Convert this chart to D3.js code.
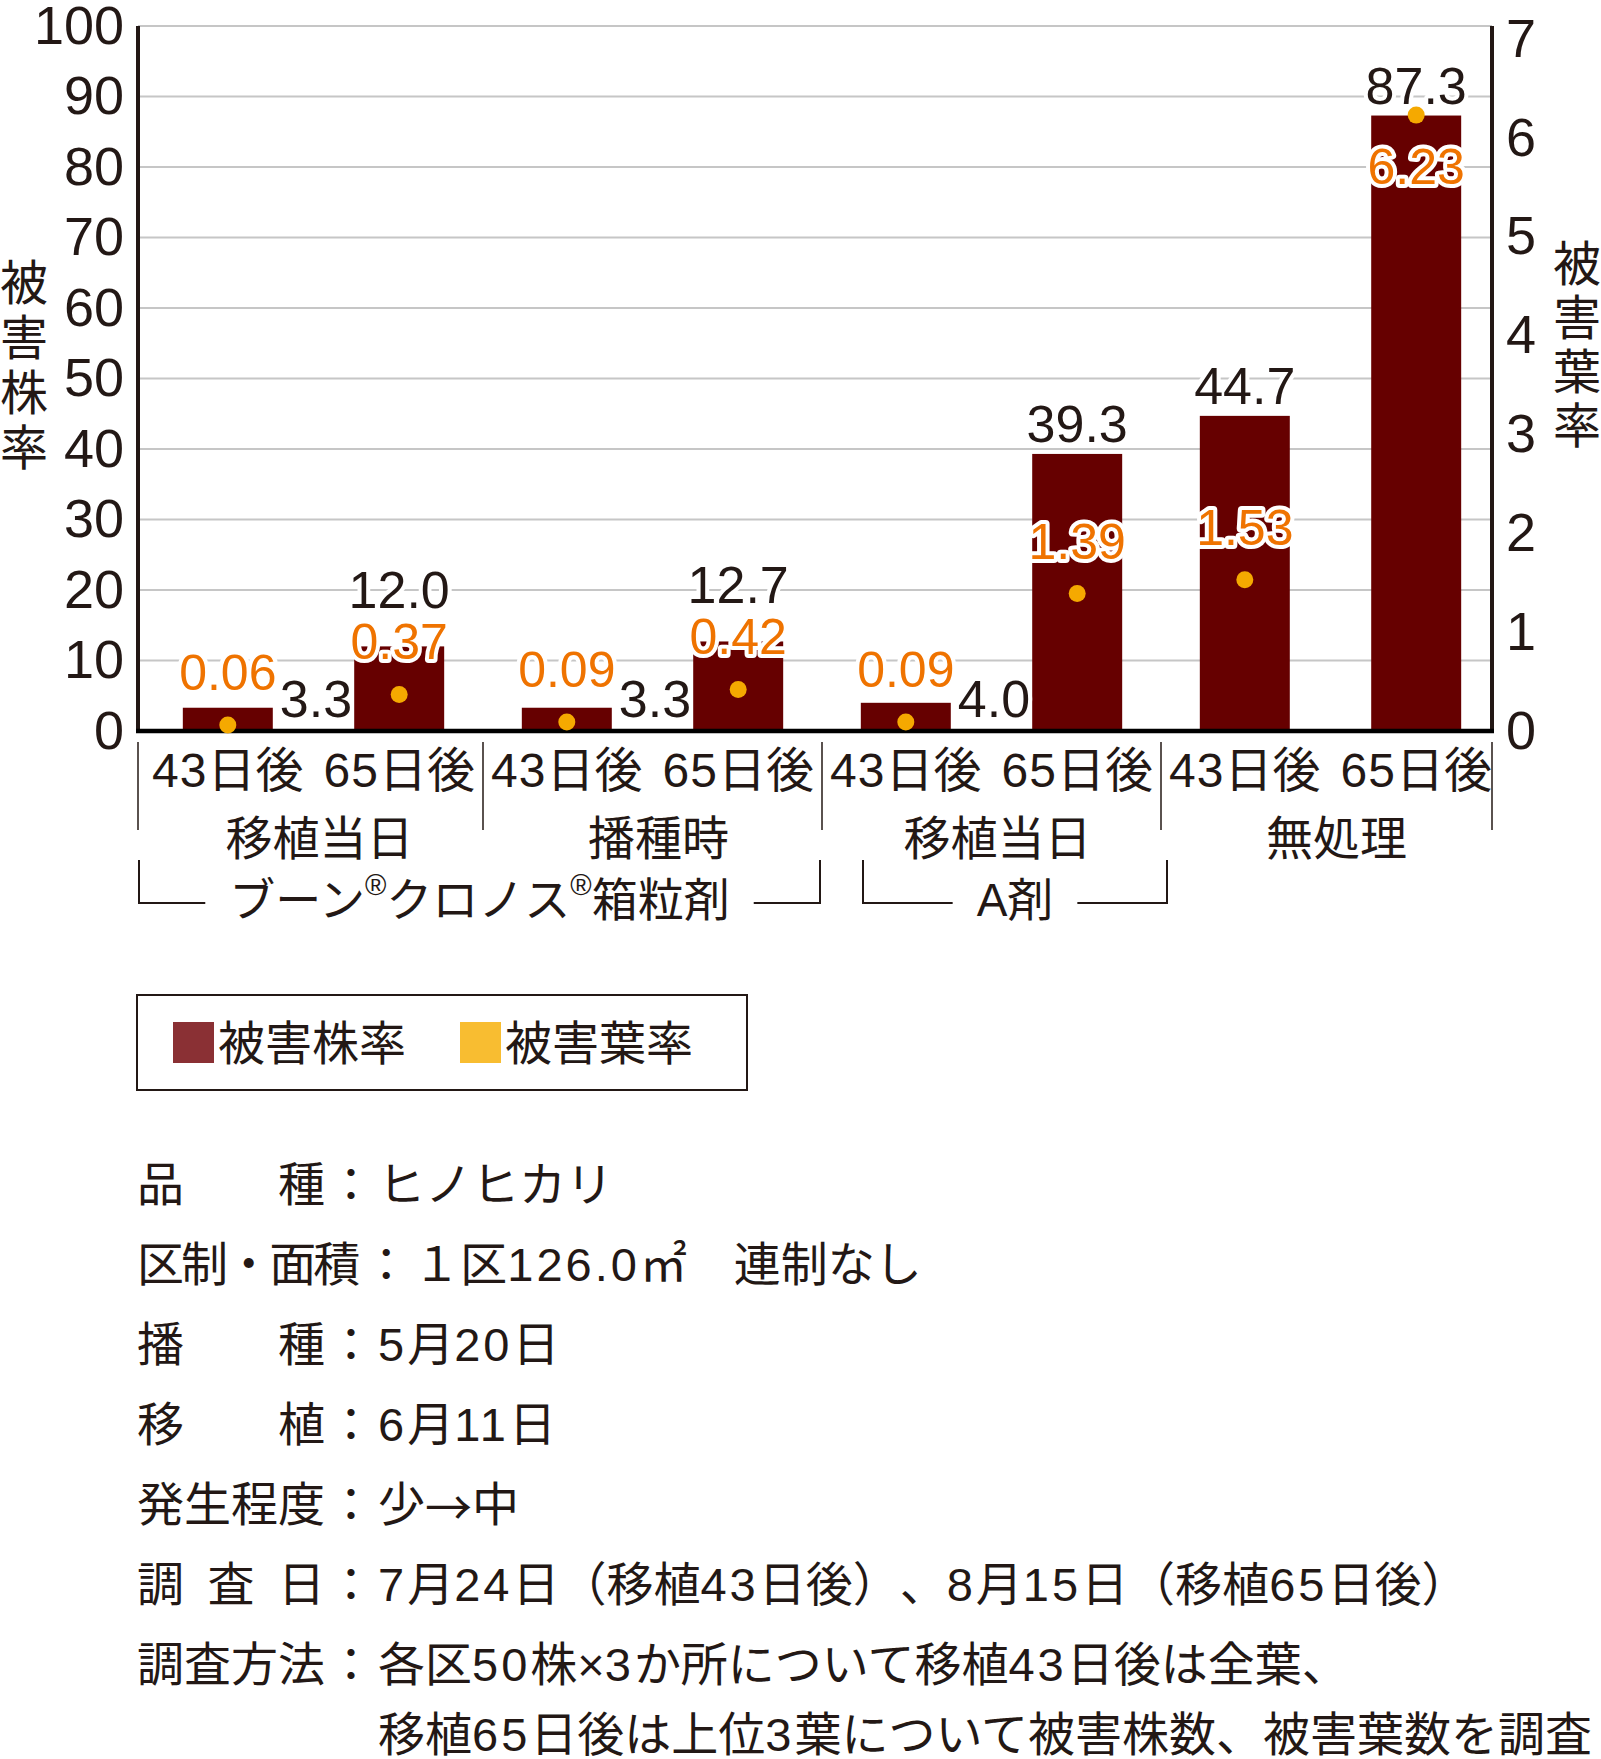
<!DOCTYPE html>
<html lang="ja">
<head>
<meta charset="utf-8">
<script src="https://cdn.jsdelivr.net/npm/d3@7"></script>
<style>
  body { margin: 0; background: #fff; }
  svg text { font-family: "Liberation Sans", Arial, "Noto Sans CJK JP", sans-serif; fill: #231815; text-spacing-trim: space-all; }
</style>
</head>
<body>
<div id="chart"></div>
<script>
// データ
const groupNames = ["移植当日", "播種時", "移植当日", "無処理"];
const timingNames = ["43日後", "65日後"];
const plantDamage = [3.3, 12.0, 3.3, 12.7, 4.0, 39.3, 44.7, 87.3];   // 被害株率
const leafDamage = [0.06, 0.37, 0.09, 0.42, 0.09, 1.39, 1.53, 6.23];  // 被害葉率
const plantTicks = [0, 10, 20, 30, 40, 50, 60, 70, 80, 90, 100];
const leafTicks = [0, 1, 2, 3, 4, 5, 6, 7];
const productNames = ["ブーン®クロノス®箱粒剤", "A剤"];
const productFirstGroup = [0, 2];
const productLastGroup = [1, 2];
const legendNames = ["被害株率", "被害葉率"];
const noteLabels = ["品種", "区制・面積", "播種", "移植", "発生程度", "調査日", "調査方法", ""];
const noteValues = [
  "ヒノヒカリ",
  "１区126.0㎡　連制なし",
  "5月20日",
  "6月11日",
  "少→中",
  "7月24日（移植43日後）、8月15日（移植65日後）",
  "各区50株×3か所について移植43日後は全葉、",
  "移植65日後は上位3葉について被害株数、被害葉数を調査"
];

// レイアウト
const width = 1601, height = 1759;
const plot = { left: 138, right: 1492, top: 26, bottom: 731 };
const barColor = "#660000", dotColor = "#f5a900", leafTextColor = "#ef7300";
const ink = "#231815";
const bracketInsets = [[-5, -2], [41, 6]];

const svg = d3.select("#chart").append("svg")
  .attr("width", width)
  .attr("height", height);

// 数字だけ字間を広げる（和文書体の数字幅に合わせる）
function mixedText(sel, str, digitSpacing) {
  str.match(/[0-9.]+|→|[^0-9.→]+/g).forEach(run => {
    const ts = sel.append("tspan").text(run);
    if (/^[0-9.]+$/.test(run)) ts.attr("letter-spacing", digitSpacing);
    if (run === "→") ts.style("font-family", "'Noto Sans CJK JP', sans-serif");
  });
}

const yPlant = d3.scaleLinear().domain([0, 100]).range([plot.bottom, plot.top]);
const yLeaf = d3.scaleLinear().domain([0, 7]).range([plot.bottom, 39]);
const xGroup = d3.scaleBand().domain(d3.range(groupNames.length)).range([144, 1500]);
const xTiming = d3.scaleBand().domain(timingNames)
  .range([0, xGroup.bandwidth()])
  .paddingInner(0.475)
  .paddingOuter(0.2265);

const bars = plantDamage.map((v, i) => ({
  plant: v,
  leaf: leafDamage[i],
  group: Math.floor(i / timingNames.length),
  timing: timingNames[i % timingNames.length]
}));
const barX = d => xGroup(d.group) + xTiming(d.timing);
const bw = xTiming.bandwidth();

// 目盛線
svg.append("g")
  .selectAll("line")
  .data(plantTicks.filter(t => t > 0))
  .join("line")
  .attr("x1", plot.left).attr("x2", plot.right)
  .attr("y1", d => yPlant(d)).attr("y2", d => yPlant(d))
  .attr("stroke", "#c6c6c6")
  .attr("stroke-width", 1.8);

// 棒
svg.append("g")
  .selectAll("rect")
  .data(bars)
  .join("rect")
  .attr("x", barX)
  .attr("width", bw)
  .attr("y", d => yPlant(d.plant))
  .attr("height", d => yPlant(0) - yPlant(d.plant))
  .attr("fill", barColor);

// 軸
const yAxisL = svg.append("g")
  .attr("transform", `translate(${plot.left},0)`)
  .call(d3.axisLeft(yPlant).tickValues(plantTicks).tickSize(0).tickPadding(14));
const yAxisR = svg.append("g")
  .attr("transform", `translate(${plot.right},0)`)
  .call(d3.axisRight(yLeaf).tickValues(leafTicks).tickFormat(d3.format("d")).tickSize(0).tickPadding(14));
[yAxisL, yAxisR].forEach(ax => {
  ax.select(".domain").remove();
  ax.selectAll("text")
    .attr("font-size", 54)
    .attr("fill", ink)
    .style("font-family", "'Liberation Sans', Arial, sans-serif");
});

svg.append("line")
  .attr("x1", plot.left).attr("x2", plot.left)
  .attr("y1", plot.top).attr("y2", plot.bottom + 2)
  .attr("stroke", ink).attr("stroke-width", 4);
svg.append("line")
  .attr("x1", plot.right).attr("x2", plot.right)
  .attr("y1", plot.top).attr("y2", plot.bottom + 2)
  .attr("stroke", ink).attr("stroke-width", 4);
svg.append("line")
  .attr("x1", plot.left - 2).attr("x2", plot.right + 2)
  .attr("y1", plot.bottom).attr("y2", plot.bottom)
  .attr("stroke", "#000").attr("stroke-width", 4.5);

// 被害葉率の点
svg.append("g")
  .selectAll("circle")
  .data(bars)
  .join("circle")
  .attr("cx", d => barX(d) + bw / 2)
  .attr("cy", d => yLeaf(d.leaf))
  .attr("r", 8.5)
  .attr("fill", dotColor);

// ラベル位置
bars.forEach(d => {
  const top = yPlant(d.plant);
  const dotY = yLeaf(d.leaf);
  d.short = yPlant(0) - top < 40;
  d.leafY = dotY - 52;
  if (d.short) {
    d.plantX = barX(d) + bw + 7;
    d.plantY = yPlant(0) - 14;
    d.plantAnchor = "start";
  } else {
    d.plantX = barX(d) + bw / 2;
    d.plantAnchor = "middle";
    d.plantY = Math.min(top - 12, d.leafY - 34);
    if (d.plantY - 37 < plot.top) {
      d.leafY = dotY + 52;
      d.plantY = top - 12;
    }
  }
});

svg.append("g")
  .selectAll("text")
  .data(bars)
  .join("text")
  .attr("x", d => d.plantX)
  .attr("y", d => d.plantY)
  .attr("text-anchor", d => d.plantAnchor)
  .attr("font-size", 52)
  .attr("stroke", "#fff").attr("stroke-width", 8)
  .attr("stroke-linejoin", "round")
  .attr("paint-order", "stroke")
  .text(d => d3.format(".1f")(d.plant));

svg.append("g")
  .selectAll("text")
  .data(bars)
  .join("text")
  .attr("x", d => barX(d) + bw / 2)
  .attr("y", d => d.leafY)
  .attr("text-anchor", "middle")
  .attr("dominant-baseline", "central")
  .attr("font-size", 50)
  .style("fill", leafTextColor)
  .attr("stroke", "#fff").attr("stroke-width", 8)
  .attr("stroke-linejoin", "round")
  .attr("paint-order", "stroke")
  .text(d => d3.format(".2f")(d.leaf));

// 軸タイトル（縦書き）
function verticalTitle(str, x, y0, step) {
  svg.append("g")
    .selectAll("text")
    .data(Array.from(str))
    .join("text")
    .attr("x", x)
    .attr("y", (c, i) => y0 + i * step)
    .attr("text-anchor", "middle")
    .attr("dominant-baseline", "central")
    .attr("font-size", 48)
    .text(c => c);
}
verticalTitle(legendNames[0], 24, 283, 55);
verticalTitle(legendNames[1], 1577, 264, 54);

// 項目ラベル
svg.append("g")
  .selectAll("text")
  .data(bars)
  .join("text")
  .attr("x", d => barX(d) + bw / 2)
  .attr("y", 770)
  .attr("text-anchor", "middle")
  .attr("dominant-baseline", "central")
  .attr("font-size", 48)
  .each(function (d) { mixedText(d3.select(this), d.timing, 1); });

svg.append("g")
  .selectAll("text")
  .data(groupNames)
  .join("text")
  .attr("x", (d, i) => xGroup(i) + xGroup.bandwidth() / 2 + 6)
  .attr("y", 838)
  .attr("text-anchor", "middle")
  .attr("dominant-baseline", "central")
  .attr("font-size", 47)
  .text(d => d);

const sepX = [plot.left].concat(d3.range(1, groupNames.length).map(i => xGroup(i)), [plot.right]);
svg.append("g")
  .selectAll("line")
  .data(sepX)
  .join("line")
  .attr("x1", d => d).attr("x2", d => d)
  .attr("y1", 742).attr("y2", 830)
  .attr("stroke", ink).attr("stroke-width", 1.5);

// 薬剤名と括弧
productNames.forEach((name, p) => {
  const left = xGroup(productFirstGroup[p]) + bracketInsets[p][0];
  const right = xGroup(productLastGroup[p]) + xGroup.bandwidth() + bracketInsets[p][1];
  const cx = (left + right) / 2;
  const t = svg.append("text")
    .attr("x", cx)
    .attr("y", 900)
    .attr("text-anchor", "middle")
    .attr("dominant-baseline", "central")
    .attr("font-size", 46);
  name.split("®").forEach((part, k) => {
    if (k > 0) {
      t.append("tspan").attr("font-size", 29).attr("dy", -15).text("®");
      t.append("tspan").attr("dy", 15).text(part);
    } else {
      t.append("tspan").text(part);
    }
  });
  const w = t.node().getComputedTextLength();
  const gap = 24;
  const path = d3.path();
  path.moveTo(left, 860); path.lineTo(left, 903); path.lineTo(cx - w / 2 - gap, 903);
  path.moveTo(cx + w / 2 + gap, 903); path.lineTo(right, 903); path.lineTo(right, 860);
  svg.append("path")
    .attr("d", path.toString())
    .attr("fill", "none")
    .attr("stroke", ink)
    .attr("stroke-width", 2);
});

// 凡例
const legend = svg.append("g");
legend.append("rect")
  .attr("x", 137).attr("y", 995)
  .attr("width", 610).attr("height", 95)
  .attr("fill", "none")
  .attr("stroke", ink).attr("stroke-width", 2);
const legendColors = ["#8a3034", "#f8bd31"];
const legendX = [173, 460];
legendNames.forEach((name, i) => {
  legend.append("rect")
    .attr("x", legendX[i]).attr("y", 1022)
    .attr("width", 41).attr("height", 41)
    .attr("fill", legendColors[i]);
  legend.append("text")
    .attr("x", legendX[i] + 45).attr("y", 1043)
    .attr("dominant-baseline", "central")
    .attr("font-size", 47)
    .text(name);
});

// 試験条件
const noteFont = 47;
const notes = svg.append("g");
noteLabels.forEach((label, i) => {
  const y = i < noteLabels.length - 1 ? 1184 + i * 80 : 1184 + (i - 1) * 80 + 70;
  const labelW = (label.length <= 4 ? 4 : 4.75) * noteFont;
  const labelEnd = 137 + labelW;
  if (label) {
    notes.append("text")
      .attr("x", 137).attr("y", y)
      .attr("dominant-baseline", "central")
      .attr("font-size", noteFont)
      .attr("textLength", labelW)
      .attr("lengthAdjust", "spacing")
      .text(label);
    notes.append("text")
      .attr("x", labelEnd + 26).attr("y", y)
      .attr("text-anchor", "middle")
      .attr("dominant-baseline", "central")
      .attr("font-size", noteFont)
      .text("：");
  }
  const v = notes.append("text")
    .attr("x", labelEnd + 53).attr("y", y)
    .attr("dominant-baseline", "central")
    .attr("font-size", noteFont);
  mixedText(v, noteValues[i], 3);
});
</script>
</body>
</html>
